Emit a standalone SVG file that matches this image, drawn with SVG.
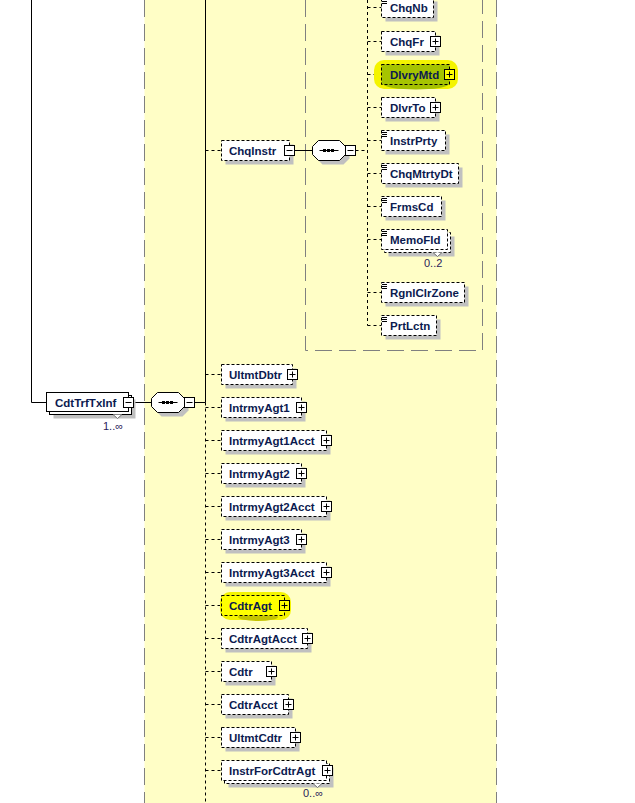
<svg xmlns="http://www.w3.org/2000/svg" xmlns:xlink="http://www.w3.org/1999/xlink" width="635" height="803" viewBox="0 0 635 803">
<style>
.bg{fill:#fffec6}
.tb{fill:none;stroke:#808080;stroke-dasharray:17 7}
.sh{fill:#c0c0c0}
.opt{fill:#fff;stroke:#000;stroke-dasharray:3 2}
.req{fill:#fff;stroke:#000}
.solid{fill:none;stroke:#000}
.dot{fill:none;stroke:#000;stroke-dasharray:3 3}
.lbl{font-family:"Liberation Sans",Arial,sans-serif;font-size:11.5px;font-weight:bold;fill:#0b1a4f}
.occ{font-family:"Liberation Sans",Arial,sans-serif;font-size:11px;fill:#2a1a5a}
.notch{fill:#fff;stroke:#707070}
</style>
<defs>
<g id="plus"><rect x="-5" y="-5" width="10" height="10" fill="#fff" stroke="#000"/><path d="M-3 0H3M0 -3V3" stroke="#000"/></g>
<g id="plusY"><rect x="-5" y="-5" width="10" height="10" fill="#ffff00" stroke="#000"/><path d="M-3 0H3M0 -3V3" stroke="#000"/></g>
<g id="minus"><rect x="-5" y="-5" width="10" height="10" fill="#fff" stroke="#000"/><path d="M-3 0H3" stroke="#000"/></g>
<g id="stype"><path d="M1 2.5H6M1 4.5H6M1 6.5H6" stroke="#000"/></g>
<g id="seq">
<path class="sh" d="M10 -6H31L37 0V8L31 14H10L4 8V0Z"/>
<path d="M6 -10H27L33 -4V4L27 10H6L0 4V-4Z" fill="#fff" stroke="#000"/>
<path d="M7 0H26" stroke="#000"/>
<rect x="10.5" y="-1.5" width="3" height="3" fill="#000"/>
<rect x="14.5" y="-1.5" width="3" height="3" fill="#000"/>
<rect x="18.5" y="-1.5" width="3" height="3" fill="#000"/>
<use xlink:href="#minus" x="38" y="0"/>
</g>
</defs>

<rect width="635" height="803" fill="#fff"/>
<rect class="bg" x="144.5" y="0" width="352" height="803"/>
<path class="tb" d="M144.5 0V803M496.5 0V803"/>
<path class="tb" d="M305.5 0V350.5H482.5V0"/>

<g id="connectors">
<path class="solid" d="M31.5 0V402.5H46.5"/>
<path class="solid" d="M133.5 402.5H151.5"/>
<path class="solid" d="M194.5 402.5H205.5"/>
<path class="solid" d="M205.5 0V402.5"/>
<path class="dot" d="M205.5 402.5V803"/>
<path class="dot" d="M205.5 150.5H221.5M205.5 374.5H221.5M205.5 407.5H221.5M205.5 440.5H221.5M205.5 473.5H221.5M205.5 506.5H221.5M205.5 539.5H221.5M205.5 572.5H221.5M205.5 605.5H221.5M205.5 638.5H221.5M205.5 671.5H221.5M205.5 704.5H221.5M205.5 737.5H221.5M205.5 770.5H221.5"/>
<path class="solid" d="M294.5 150.5H312.5"/>
<path class="dot" d="M355.5 150.5H367.5"/>
<path class="dot" d="M367.5 0V325.5"/>
<path class="dot" d="M367.5 7.5H381.5M367.5 41.5H381.5M367.5 74.5H381.5M367.5 107.5H381.5M367.5 140.5H381.5M367.5 173.5H381.5M367.5 206.5H381.5M367.5 239.5H381.5M367.5 292.5H381.5M367.5 325.5H381.5"/>
</g>

<g id="n-CdtTrfTxInf">
<rect class="sh" x="53.5" y="399.5" width="82" height="19"/>
<rect class="req" x="49.5" y="395.5" width="82" height="19"/>
<rect class="req" x="46.5" y="392.5" width="82" height="19"/>
<path class="notch" d="M113 414.5L117.5 418.5L122 414.5"/>
<text class="lbl" x="55" y="406.5">CdtTrfTxInf</text>
<use xlink:href="#minus" x="128.5" y="402.5"/>
<text class="occ" x="103" y="429.5">1..∞</text>
</g>

<g id="seq-CdtTrfTxInf"><use xlink:href="#seq" x="151.5" y="402.5"/></g>

<g id="n-ChqInstr">
<rect class="sh" x="225.5" y="144.5" width="68" height="20"/>
<rect class="opt" x="221.5" y="140.5" width="68" height="20"/>
<text class="lbl" x="229" y="154.5">ChqInstr</text>
<use xlink:href="#minus" x="289.5" y="150.5"/>
</g>

<g id="seq-ChqInstr"><use xlink:href="#seq" x="312.5" y="150.5"/></g>

<g id="n-ChqNb">
<rect class="sh" x="385.5" y="1.5" width="52" height="20"/>
<rect class="opt" x="381.5" y="-2.5" width="52" height="20"/>
<use xlink:href="#stype" x="381" y="-3"/>
<text class="lbl" x="390" y="11.5">ChqNb</text>
</g>

<g id="n-ChqFr">
<rect class="sh" x="385.5" y="35.5" width="54" height="20"/>
<rect class="opt" x="381.5" y="31.5" width="54" height="20"/>
<text class="lbl" x="390" y="45.5">ChqFr</text>
<use xlink:href="#plus" x="435.5" y="41.5"/>
</g>

<g id="n-DlvryMtd">
<rect x="374" y="60" width="84" height="29" rx="10" fill="#f4f400"/>
<ellipse cx="416" cy="84" rx="33" ry="5.5" fill="#a4c000"/>
<rect x="381.5" y="64.5" width="68" height="20" fill="#a6c400" stroke="#000" stroke-dasharray="3 2"/>
<text class="lbl" x="390" y="78.5">DlvryMtd</text>
<use xlink:href="#plusY" x="449.5" y="74.5"/>
</g>

<g id="n-DlvrTo">
<rect class="sh" x="385.5" y="101.5" width="54" height="20"/>
<rect class="opt" x="381.5" y="97.5" width="54" height="20"/>
<text class="lbl" x="390" y="111.5">DlvrTo</text>
<use xlink:href="#plus" x="435.5" y="107.5"/>
</g>

<g id="n-InstrPrty">
<rect class="sh" x="385.5" y="134.5" width="64" height="20"/>
<rect class="opt" x="381.5" y="130.5" width="64" height="20"/>
<use xlink:href="#stype" x="381" y="130"/>
<text class="lbl" x="390" y="144.5">InstrPrty</text>
</g>

<g id="n-ChqMtrtyDt">
<rect class="sh" x="385.5" y="167.5" width="77" height="20"/>
<rect class="opt" x="381.5" y="163.5" width="77" height="20"/>
<use xlink:href="#stype" x="381" y="163"/>
<text class="lbl" x="390" y="177.5">ChqMtrtyDt</text>
</g>

<g id="n-FrmsCd">
<rect class="sh" x="385.5" y="200.5" width="60" height="20"/>
<rect class="opt" x="381.5" y="196.5" width="60" height="20"/>
<use xlink:href="#stype" x="381" y="196"/>
<text class="lbl" x="390" y="210.5">FrmsCd</text>
</g>

<g id="n-MemoFld">
<rect class="sh" x="388.5" y="236.5" width="66" height="20"/>
<rect class="opt" x="384.5" y="232.5" width="66" height="20"/>
<rect class="opt" x="381.5" y="229.5" width="66" height="20"/>
<path class="notch" d="M433 252.5L437.5 256.5L442 252.5"/>
<use xlink:href="#stype" x="381" y="229"/>
<text class="lbl" x="390" y="243.5">MemoFld</text>
<text class="occ" x="424" y="266.5">0..2</text>
</g>

<g id="n-RgnlClrZone">
<rect class="sh" x="385.5" y="286.5" width="83" height="20"/>
<rect class="opt" x="381.5" y="282.5" width="83" height="20"/>
<use xlink:href="#stype" x="381" y="282"/>
<text class="lbl" x="390" y="296.5">RgnlClrZone</text>
</g>

<g id="n-PrtLctn">
<rect class="sh" x="385.5" y="319.5" width="55" height="20"/>
<rect class="opt" x="381.5" y="315.5" width="55" height="20"/>
<use xlink:href="#stype" x="381" y="315"/>
<text class="lbl" x="390" y="329.5">PrtLctn</text>
</g>

<g id="n-UltmtDbtr">
<rect class="sh" x="225.5" y="368.5" width="71" height="20"/>
<rect class="opt" x="221.5" y="364.5" width="71" height="20"/>
<text class="lbl" x="229" y="378.5">UltmtDbtr</text>
<use xlink:href="#plus" x="292.5" y="374.5"/>
</g>

<g id="n-IntrmyAgt1">
<rect class="sh" x="225.5" y="401.5" width="80" height="20"/>
<rect class="opt" x="221.5" y="397.5" width="80" height="20"/>
<text class="lbl" x="229" y="411.5">IntrmyAgt1</text>
<use xlink:href="#plus" x="301.5" y="407.5"/>
</g>

<g id="n-IntrmyAgt1Acct">
<rect class="sh" x="225.5" y="434.5" width="105" height="20"/>
<rect class="opt" x="221.5" y="430.5" width="105" height="20"/>
<text class="lbl" x="229" y="444.5">IntrmyAgt1Acct</text>
<use xlink:href="#plus" x="326.5" y="440.5"/>
</g>

<g id="n-IntrmyAgt2">
<rect class="sh" x="225.5" y="467.5" width="80" height="20"/>
<rect class="opt" x="221.5" y="463.5" width="80" height="20"/>
<text class="lbl" x="229" y="477.5">IntrmyAgt2</text>
<use xlink:href="#plus" x="301.5" y="473.5"/>
</g>

<g id="n-IntrmyAgt2Acct">
<rect class="sh" x="225.5" y="500.5" width="105" height="20"/>
<rect class="opt" x="221.5" y="496.5" width="105" height="20"/>
<text class="lbl" x="229" y="510.5">IntrmyAgt2Acct</text>
<use xlink:href="#plus" x="326.5" y="506.5"/>
</g>

<g id="n-IntrmyAgt3">
<rect class="sh" x="225.5" y="533.5" width="80" height="20"/>
<rect class="opt" x="221.5" y="529.5" width="80" height="20"/>
<text class="lbl" x="229" y="543.5">IntrmyAgt3</text>
<use xlink:href="#plus" x="301.5" y="539.5"/>
</g>

<g id="n-IntrmyAgt3Acct">
<rect class="sh" x="225.5" y="566.5" width="105" height="20"/>
<rect class="opt" x="221.5" y="562.5" width="105" height="20"/>
<text class="lbl" x="229" y="576.5">IntrmyAgt3Acct</text>
<use xlink:href="#plus" x="326.5" y="572.5"/>
</g>

<g id="n-CdtrAgt">
<rect x="220" y="592" width="71" height="28" rx="10" fill="#f4f400"/>
<ellipse cx="258" cy="617" rx="20" ry="4" fill="#c4c400"/>
<rect x="221.5" y="595.5" width="63" height="20" fill="#ffff00" stroke="#000" stroke-dasharray="3 2"/>
<text class="lbl" x="229" y="609.5">CdtrAgt</text>
<use xlink:href="#plusY" x="284.5" y="605.5"/>
</g>

<g id="n-CdtrAgtAcct">
<rect class="sh" x="225.5" y="632.5" width="86" height="20"/>
<rect class="opt" x="221.5" y="628.5" width="86" height="20"/>
<text class="lbl" x="229" y="642.5">CdtrAgtAcct</text>
<use xlink:href="#plus" x="307.5" y="638.5"/>
</g>

<g id="n-Cdtr">
<rect class="sh" x="225.5" y="665.5" width="50" height="20"/>
<rect class="opt" x="221.5" y="661.5" width="50" height="20"/>
<text class="lbl" x="229" y="675.5">Cdtr</text>
<use xlink:href="#plus" x="271.5" y="671.5"/>
</g>

<g id="n-CdtrAcct">
<rect class="sh" x="225.5" y="698.5" width="67" height="20"/>
<rect class="opt" x="221.5" y="694.5" width="67" height="20"/>
<text class="lbl" x="229" y="708.5">CdtrAcct</text>
<use xlink:href="#plus" x="288.5" y="704.5"/>
</g>

<g id="n-UltmtCdtr">
<rect class="sh" x="225.5" y="731.5" width="74" height="20"/>
<rect class="opt" x="221.5" y="727.5" width="74" height="20"/>
<text class="lbl" x="229" y="741.5">UltmtCdtr</text>
<use xlink:href="#plus" x="295.5" y="737.5"/>
</g>

<g id="n-InstrForCdtrAgt">
<rect class="sh" x="228.5" y="767.5" width="105" height="20"/>
<rect class="opt" x="224.5" y="763.5" width="105" height="20"/>
<rect class="opt" x="221.5" y="760.5" width="105" height="20"/>
<path class="notch" d="M313 783.5L317.5 787.5L322 783.5"/>
<text class="lbl" x="229" y="774.5">InstrForCdtrAgt</text>
<use xlink:href="#plus" x="327.5" y="770.5"/>
<text class="occ" x="303" y="797">0..∞</text>
</g>
</svg>
